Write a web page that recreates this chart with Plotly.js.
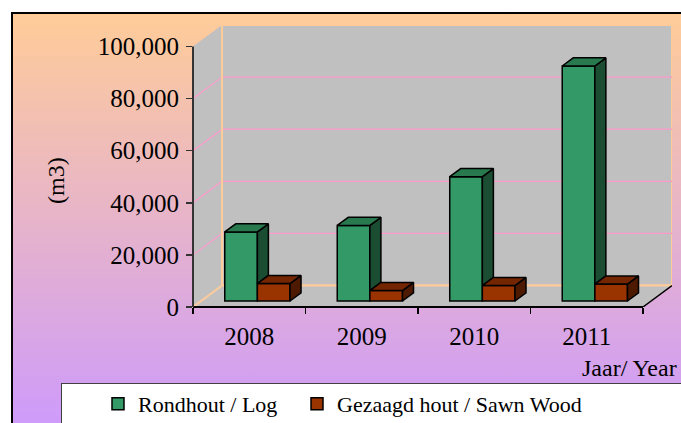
<!DOCTYPE html>
<html><head><meta charset="utf-8">
<script src="https://cdn.plot.ly/plotly-3.0.1.min.js"></script>
<style>
html,body{margin:0;padding:0;width:681px;height:423px;overflow:hidden;background:#fff;}
#wrap{position:absolute;left:0;top:0;width:681px;height:423px;overflow:hidden;}
#frame{position:absolute;left:11px;top:12px;right:-200px;bottom:-200px;border-left:2px solid #000;border-top:2px solid #000;background:linear-gradient(to bottom,#FFCC99 0px,#CC99FF 428px);}
#legbox{position:absolute;left:61px;top:383px;right:-200px;bottom:-200px;background:#fff;border-left:1px solid #404040;border-top:1px solid #404040;}
#chart{position:absolute;left:0;top:0;width:681px;height:423px;}
</style></head>
<body><div id="wrap"><div id="frame"></div><div id="legbox"></div><div id="chart"></div></div>
<script>
const years = ['2008', '2009', '2010', '2011'];
const logVolume = [26500, 29000, 47700, 90200];
const sawnVolume = [6700, 4000, 5900, 6500];
const yTickValues = [0, 20000, 40000, 60000, 80000, 100000];
const seriesNames = ['Rondhout / Log', 'Gezaagd hout / Sawn Wood'];

const YMAX = 100000;
const DXF = 0.258, DYF = 8240;       // floor depth (category units, value units)
const F1 = 0.28, F2 = 0.66;          // bar front/back depth fractions
const BW = 0.29;                     // bar width
const xs = years.map((_, i) => i);
const xmin = -0.5, xmax = years.length - 0.5;
const B0 = F1 * DYF, SX = F1 * DXF;
const DDX = (F2 - F1) * DXF, DDY = (F2 - F1) * DYF;

function faces(vals, lowVals, off) {
  const side = {x: [], y: []}, top = {x: [], y: []};
  vals.forEach((v, i) => {
    const xl = i + off + SX, xr = xl + BW;
    const lo = Math.min(lowVals[i], v);
    side.x.push(xr, xr + DDX, xr + DDX, xr, xr, null);
    side.y.push(B0 + lo, B0 + lo + DDY, B0 + v + DDY, B0 + v, B0 + lo, null);
    top.x.push(xl, xl + DDX, xr + DDX, xr, xl, null);
    top.y.push(B0 + v, B0 + v + DDY, B0 + v + DDY, B0 + v, B0 + v, null);
  });
  return {side, top};
}
const zeros = years.map(() => 0);
const gF = faces(logVolume, sawnVolume, -BW);
const oF = faces(sawnVolume, zeros, 0);

function face(pts, color) {
  return {type: 'scatter', mode: 'lines', x: pts.x, y: pts.y, fill: 'toself',
    fillcolor: color, line: {color: '#000', width: 1.5}, showlegend: false, hoverinfo: 'skip'};
}

const traces = [
  {type: 'bar', name: seriesNames[0], legend: 'legend', x: xs, y: logVolume, base: B0, offset: -BW + SX, width: BW,
   marker: {color: '#339966', line: {color: '#000', width: 1.5}}},
  {type: 'bar', name: seriesNames[1], legend: 'legend2', x: xs, y: sawnVolume, base: B0, offset: SX, width: BW,
   marker: {color: '#993300', line: {color: '#000', width: 1.5}}},
  face(gF.side, '#1B4D33'), face(gF.top, '#287A4E'),
  face(oF.side, '#4D1A00'), face(oF.top, '#732600')
];

const shapes = [];
shapes.push({type: 'rect', xref: 'x', yref: 'y', x0: xmin + DXF, x1: xmax + DXF, y0: DYF, y1: YMAX + DYF,
  fillcolor: '#C0C0C0', line: {color: '#FFCC99', width: 2}, layer: 'below'});
shapes.push({type: 'path', xref: 'x', yref: 'y', layer: 'below', fillcolor: '#C0C0C0', line: {width: 0},
  path: `M${xmin},0 L${xmin + DXF},${DYF} L${xmin + DXF},${YMAX + DYF} L${xmin},${YMAX} Z`});
shapes.push({type: 'path', xref: 'x', yref: 'y', layer: 'below', fillcolor: '#C0C0C0', line: {width: 0},
  path: `M${xmin},0 L${xmax},0 L${xmax + DXF},${DYF} L${xmin + DXF},${DYF} Z`});
yTickValues.forEach(v => {
  if (v > 0 && v < YMAX) {
    shapes.push({type: 'line', xref: 'x', yref: 'y', layer: 'below', x0: xmin + DXF, x1: xmax + DXF,
      y0: v + DYF, y1: v + DYF, line: {color: '#FF99CC', width: 1.2}});
    shapes.push({type: 'line', xref: 'x', yref: 'y', layer: 'below', x0: xmin, x1: xmin + DXF,
      y0: v, y1: v + DYF, line: {color: '#FF99CC', width: 1.2}});
  }
});
const peach = {color: '#FFCC99', width: 2};
shapes.push({type: 'line', xref: 'x', yref: 'y', layer: 'below', x0: xmin + DXF, x1: xmax + DXF, y0: DYF, y1: DYF, line: peach});
shapes.push({type: 'line', xref: 'x', yref: 'y', layer: 'below', x0: xmin + DXF, x1: xmin + DXF, y0: DYF, y1: YMAX + DYF, line: peach});
shapes.push({type: 'line', xref: 'x', yref: 'y', layer: 'below', x0: xmin, x1: xmin + DXF, y0: 0, y1: DYF, line: peach});
shapes.push({type: 'line', xref: 'x', yref: 'y', layer: 'above', x0: xmax, x1: xmax + DXF, y0: 0, y1: DYF, line: {color: '#000', width: 1.5}});
shapes.push({type: 'line', xref: 'x', yref: 'paper', layer: 'above', x0: xmin, x1: xmax, y0: 0, y1: 0, line: {color: '#000', width: 2}});
shapes.push({type: 'line', xref: 'paper', yref: 'y', layer: 'above', x0: 0, x1: 0, y0: 0, y1: YMAX, line: {color: '#333', width: 2}});

const boundaries = xs.map(i => i - 0.5).concat([xmax]);
const PL = 193, PR = 672, PT = 25, PB = 307;
const px = v => (v - PL) / (PR - PL);
const py = v => (PB - v) / (PB - PT);
const serif = 'Liberation Serif';

function legendAt(left) {
  return {orientation: 'h', x: px(left), xanchor: 'left', y: py(404), yanchor: 'middle',
    bgcolor: 'rgba(0,0,0,0)', borderwidth: 0, font: {family: serif, size: 22, color: '#000'}};
}

const layout = {
  width: 681, height: 423,
  margin: {l: PL, r: 681 - PR, t: PT, b: 423 - PB, autoexpand: false},
  paper_bgcolor: 'rgba(0,0,0,0)', plot_bgcolor: 'rgba(0,0,0,0)',
  barmode: 'overlay', hovermode: false,
  xaxis: {range: [xmin, xmax + DXF], showgrid: false, zeroline: false, showline: false,
    tickmode: 'array', tickvals: xs, ticktext: years, ticks: '', ticklabelstandoff: 12,
    tickfont: {family: serif, size: 25, color: '#000'},
    minor: {tickmode: 'array', tickvals: boundaries, ticks: 'outside', ticklen: 6, tickwidth: 1.5, tickcolor: '#000', showgrid: false}},
  yaxis: {range: [0, YMAX + DYF], showgrid: false, zeroline: false, showline: false,
    tickmode: 'array', tickvals: yTickValues, tickformat: ',d', ticks: 'outside', ticklen: 6,
    tickwidth: 1.5, tickcolor: '#333', tickfont: {family: serif, size: 25, color: '#000'}, ticklabelstandoff: 2},
  showlegend: true,
  legend: legendAt(98),
  legend2: legendAt(297),
  annotations: [
    {text: '(m3)', xref: 'paper', yref: 'paper', x: px(56), y: py(181), xanchor: 'center', yanchor: 'middle',
     textangle: -90, showarrow: false, font: {family: serif, size: 24, color: '#000'}},
    {text: 'Jaar/ Year', xref: 'paper', yref: 'paper', x: px(679), y: py(368), xanchor: 'right', yanchor: 'middle',
     showarrow: false, font: {family: serif, size: 24, color: '#000'}}
  ],
  shapes: shapes
};
Plotly.newPlot('chart', traces, layout, {staticPlot: true, displayModeBar: false});
</script></body></html>
